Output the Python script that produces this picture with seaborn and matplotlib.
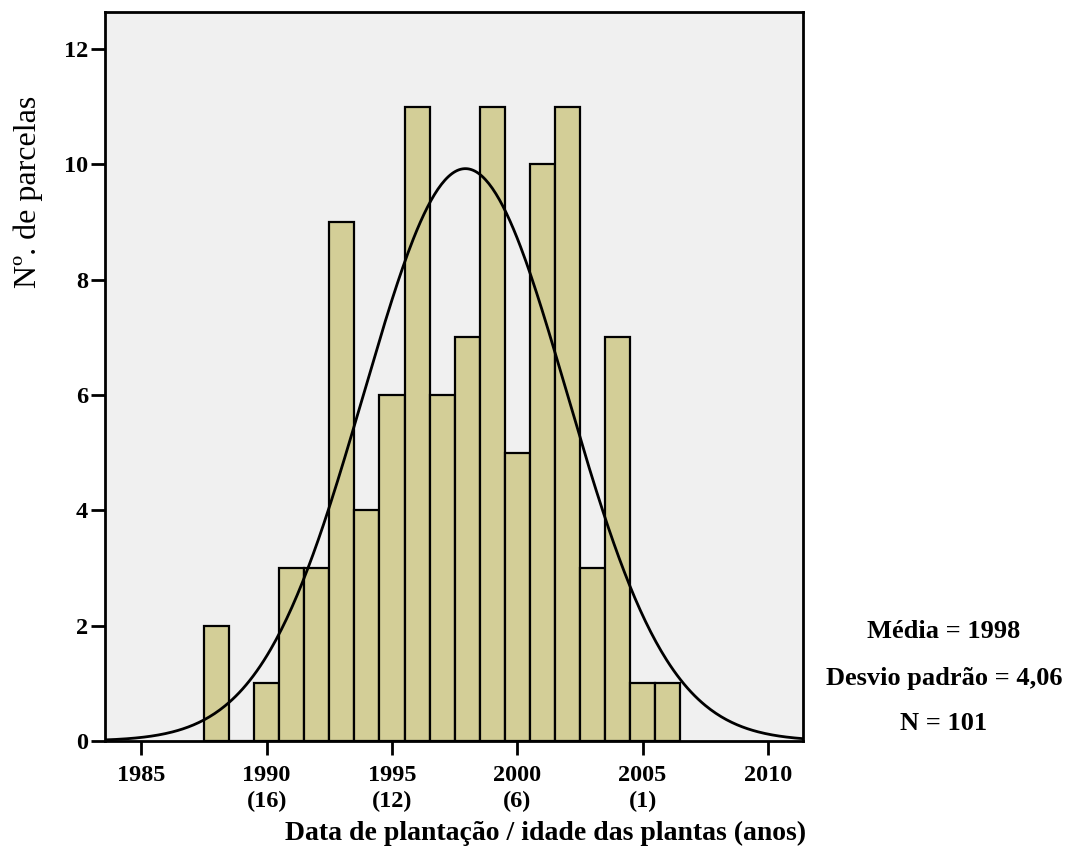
import matplotlib
matplotlib.use("Agg")
import matplotlib.pyplot as plt
import seaborn as sns
import numpy as np
import pandas as pd

# counts of plots per planting year
years = [1988, 1989, 1990, 1991, 1992, 1993, 1994, 1995, 1996, 1997,
         1998, 1999, 2000, 2001, 2002, 2003, 2004, 2005, 2006]
counts = [2, 0, 1, 3, 3, 9, 4, 6, 11, 6, 7, 11, 5, 10, 11, 3, 7, 1, 1]

tick_years = [1985, 1990, 1995, 2000, 2005, 2010]
tick_labels = ["1985", "1990\n(16)", "1995\n(12)", "2000\n(6)", "2005\n(1)", "2010"]
stats_lines = ["Média = 1998", "Desvio padrão = 4,06", "N = 101"]

sns.set_style("ticks")
plt.rcParams["font.family"] = ["Liberation Serif", "DejaVu Serif"]
plt.rcParams["font.weight"] = "bold"
plt.rcParams["text.color"] = "black"
plt.rcParams["xtick.color"] = "black"
plt.rcParams["ytick.color"] = "black"

df = pd.DataFrame({"ano": np.repeat(years, counts)})

fig = plt.figure(figsize=(10.68, 8.5), dpi=100)
ax = fig.add_axes([105 / 1068, 109 / 850, 698 / 1068, 729 / 850])
ax.set_facecolor("#F0F0F0")

sns.histplot(data=df, x="ano", discrete=True, ax=ax, color="#D3CE97",
             edgecolor="black", linewidth=1.6, alpha=1)

# normal curve fitted to the data
mu = df["ano"].mean()
sd = df["ano"].std()
xs = np.linspace(1983.5, 2011.5, 400)
ys = len(df) * np.exp(-0.5 * ((xs - mu) / sd) ** 2) / (sd * np.sqrt(2 * np.pi))
ax.plot(xs, ys, color="black", lw=2)

ax.set_xlim(1983.55, 2011.4)
ax.set_ylim(0, 12.64)
ax.set_xticks(tick_years)
ax.set_xticklabels(tick_labels, linespacing=1.3, va="top")
ax.set_yticks(range(0, 13, 2))
ax.tick_params(axis="both", length=10, width=2, labelsize=17.5, pad=2,
               colors="black")
ax.tick_params(axis="x", pad=7)
for lab in ax.get_xticklabels() + ax.get_yticklabels():
    lab.set_fontweight("bold")
for s in ax.spines.values():
    s.set_linewidth(2)
    s.set_color("black")
ax.set_xlabel("")
ax.set_ylabel("")

fig.text(28 / 1068, 1 - 192 / 850, "Nº. de parcelas", rotation=90,
         ha="center", va="center", fontsize=23, fontweight="normal",
         color="black")
fig.text(806 / 1068, 1 - 833 / 850, "Data de plantação / idade das plantas (anos)",
         ha="right", va="center", fontsize=20, fontweight="bold", color="black")
for i, line in enumerate(stats_lines):
    fig.text(944 / 1068, 1 - (632 + 46 * i) / 850, line,
             ha="center", va="center", fontsize=19, fontweight="bold",
             color="black")

fig.savefig("out.png", dpi=100, facecolor="white")
